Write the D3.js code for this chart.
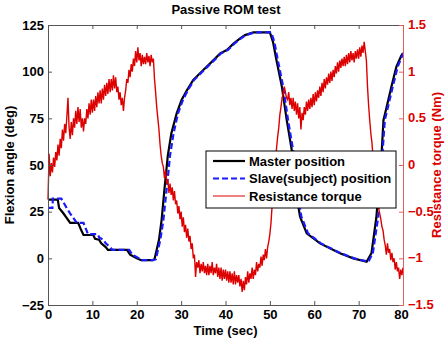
<!DOCTYPE html>
<html>
<head>
<meta charset="utf-8">
<script src="https://cdn.jsdelivr.net/npm/d3@7"></script>
<style>
  body { margin: 0; background: #fff; }
  text { font-family: "Liberation Sans", Arial, Helvetica, sans-serif; font-weight: bold; }
</style>
</head>
<body>
<div id="chart"></div>
<script>
//Data///////////////////////////////////////////////////////////////////////////

// master position [time (s), angle (deg)]
var masterPts = [
  [0, 31.5], [2.2, 31.5], [2.5, 27], [3.5, 24], [5, 19], [6.8, 19], [7.5, 15], [8, 12.5],
  [10.2, 12.5], [10.6, 10.5], [11.5, 10], [12, 8], [13, 6], [13.5, 4.5], [17.8, 4.5],
  [18.5, 2], [20, 0], [21, -1], [23.5, -1], [24, -0.5], [25, 9.8], [25.6, 20.5],
  [26.3, 38.4], [27, 55], [27.8, 67], [29, 77.7], [30.1, 84.8], [31.3, 90], [32.7, 95.5],
  [35, 100.9], [37.3, 106.2], [38.8, 109.8], [40.3, 111.6], [41.8, 115], [43.3, 117.8],
  [44.4, 119.6], [46.3, 121], [50, 121], [50.7, 116], [51.5, 106], [52.7, 92], [53.8, 74],
  [55, 57], [56, 34], [56.8, 22.3], [58.3, 13.4], [61.3, 8], [65.8, 2.7], [68.8, 0],
  [71.8, -1.8], [72.9, 2.8], [74, 22], [75.2, 57], [75.6, 74], [76.3, 81], [77.4, 92],
  [78.5, 102.6], [79.6, 108.5], [80, 110]
];

// slave (subject) position [time (s), angle (deg)]
var slavePts = [
  [0, 27], [1, 27], [1.1, 32], [3, 32], [3.5, 30], [4.2, 27], [5, 24], [6.5, 19], [8, 19],
  [8.5, 16], [9, 13], [11.2, 13], [11.6, 11], [12.5, 10], [13, 8], [14, 6], [14.5, 4.5],
  [18.3, 4.5], [19, 2], [20.5, 0], [21, -1], [23.7, -1], [24.3, -0.5], [25.3, 9.8],
  [26, 20.5], [26.8, 38.4], [27.5, 55], [28.3, 67], [29.3, 77.7], [30.4, 84.8], [31.5, 90],
  [32.9, 95.5], [35.2, 100.9], [37.5, 106.2], [39, 109.8], [40.5, 111.6], [42, 115],
  [43.5, 117.8], [44.6, 119.6], [46.5, 121], [50.3, 121], [51, 116], [51.8, 106], [53, 92],
  [54.1, 74], [55.3, 57], [56.3, 34], [57.1, 22.3], [58.6, 13.4], [61.5, 8], [66, 2.7],
  [69, 0], [72.2, -1.8], [73.2, 2.8], [74.4, 22], [75.4, 57], [75.9, 74], [76.6, 81],
  [77.7, 92], [78.8, 102.6], [79.8, 108.5], [80, 110]
];

// resistance torque (Nm), sampled every 0.25 s from 0 to 80 s
var torqueStep = 0.25;
var torque = [
  -0.37, 0.12, -0.12, 0.02,
  -0.08, 0.08, -0.02, 0.14,
  0.05, 0.22, 0.10, 0.28,
  0.18, 0.38, 0.26, 0.44,
  0.34, 0.52, 0.72, 0.40,
  0.28, 0.46, 0.32, 0.50,
  0.40, 0.58, 0.44, 0.62,
  0.46, 0.60, 0.40, 0.50,
  0.36, 0.50, 0.44, 0.60,
  0.50, 0.66, 0.54, 0.70,
  0.56, 0.70, 0.58, 0.74,
  0.62, 0.78, 0.66, 0.80,
  0.66, 0.82, 0.70, 0.86,
  0.74, 0.88, 0.76, 0.92,
  0.78, 0.92, 0.80, 0.96,
  0.82, 0.94, 0.78, 0.84,
  0.70, 0.78, 0.64, 0.72,
  0.58, 0.72, 0.80, 0.92,
  0.88, 1.02, 0.94, 1.08,
  1.00, 1.14, 1.06, 1.22,
  1.10, 1.26, 1.12, 1.20,
  1.06, 1.18, 1.08, 1.16,
  1.08, 1.20, 1.10, 1.17,
  1.06, 1.18, 1.10, 1.14,
  0.92, 0.78, 0.62, 0.50,
  0.38, 0.22, 0.10, 0.02,
  -0.02, -0.14, -0.06, -0.20,
  -0.16, -0.30, -0.20, -0.32,
  -0.24, -0.38, -0.28, -0.42,
  -0.38, -0.52, -0.44, -0.58,
  -0.50, -0.66, -0.56, -0.72,
  -0.64, -0.78, -0.68, -0.82,
  -0.76, -0.90, -0.84, -1.00,
  -0.96, -1.20, -1.04, -1.10,
  -1.02, -1.16, -1.06, -1.14,
  -1.04, -1.16, -1.08, -1.18,
  -1.06, -1.18, -1.08, -1.16,
  -1.04, -1.18, -1.10, -1.16,
  -1.06, -1.20, -1.10, -1.22,
  -1.10, -1.24, -1.12, -1.22,
  -1.12, -1.24, -1.14, -1.26,
  -1.14, -1.26, -1.16, -1.28,
  -1.14, -1.28, -1.18, -1.26,
  -1.18, -1.30, -1.22, -1.36,
  -1.24, -1.34, -1.20, -1.28,
  -1.14, -1.26, -1.16, -1.22,
  -1.10, -1.22, -1.12, -1.18,
  -1.04, -1.14, -1.06, -1.10,
  -0.98, -1.08, -0.96, -1.02,
  -0.90, -1.00, -0.88, -0.82,
  -0.74, -0.62, -0.44, -0.30,
  -0.14, 0.02, 0.18, 0.30,
  0.40, 0.54, 0.62, 0.72,
  0.76, 0.84, 0.78, 0.72,
  0.70, 0.78, 0.64, 0.72,
  0.60, 0.72, 0.58, 0.68,
  0.54, 0.66, 0.50, 0.62,
  0.38, 0.56, 0.48, 0.62,
  0.54, 0.68, 0.58, 0.70,
  0.60, 0.72, 0.62, 0.76,
  0.64, 0.78, 0.68, 0.80,
  0.72, 0.84, 0.74, 0.88,
  0.78, 0.92, 0.82, 0.94,
  0.86, 0.98, 0.88, 1.00,
  0.90, 1.02, 0.94, 1.06,
  0.98, 1.10, 1.00, 1.12,
  1.04, 1.14, 1.06, 1.16,
  1.06, 1.18, 1.08, 1.20,
  1.10, 1.22, 1.12, 1.20,
  1.10, 1.22, 1.14, 1.24,
  1.14, 1.26, 1.16, 1.28,
  1.20, 1.32, 1.22, 1.12,
  0.84, 0.64, 0.48, 0.34,
  0.24, 0.08, -0.04, -0.16,
  -0.28, -0.38, -0.46, -0.52,
  -0.58, -0.66, -0.70, -0.80,
  -0.86, -0.96, -0.84, -0.94,
  -0.90, -1.02, -0.94, -1.04,
  -1.00, -1.12, -1.04, -1.14,
  -1.10, -1.22, -1.12, -1.18,
  -1.10
];

var xTicks = [0, 10, 20, 30, 40, 50, 60, 70, 80];
var yLeftTicks = [-25, 0, 25, 50, 75, 100, 125];
var yRightTicks = [-1.5, -1, -0.5, 0, 0.5, 1, 1.5];
var legendLabels = ["Master position", "Slave(subject) position", "Resistance torque"];

//Setup//////////////////////////////////////////////////////////////////////////

var W = 447, H = 339;
var margin = {top: 25, right: 44, bottom: 34, left: 48},
    width = W - margin.left - margin.right,
    height = H - margin.top - margin.bottom;

var red = "#dd0000";

var root = d3.select("#chart").append("svg")
    .attr("width", W)
    .attr("height", H);

var svg = root.append("g")
    .attr("transform", "translate(" + margin.left + "," + margin.top + ")");

var x = d3.scaleLinear().domain([0, 80]).range([0, width]);
var yL = d3.scaleLinear().domain([-25, 125]).range([height, 0]);
var yR = d3.scaleLinear().domain([-1.5, 1.5]).range([height, 0]);

//Lines//////////////////////////////////////////////////////////////////////////

var posLine = d3.line()
  .x(function(d) { return x(d[0]); })
  .y(function(d) { return yL(d[1]); });

svg.append("path")
  .attr("d", posLine(masterPts))
  .attr("fill", "none")
  .attr("stroke", "#000")
  .attr("stroke-width", 2.2);

svg.append("path")
  .attr("d", posLine(slavePts))
  .attr("fill", "none")
  .attr("stroke", "#1a1aff")
  .attr("stroke-width", 2.2)
  .attr("stroke-dasharray", "6,3");

var torqueLine = d3.line()
  .x(function(d, i) { return x(i * torqueStep); })
  .y(function(d) { return yR(d); });

svg.append("path")
  .attr("d", torqueLine(torque))
  .attr("fill", "none")
  .attr("stroke", red)
  .attr("stroke-width", 1.4);

//Axes///////////////////////////////////////////////////////////////////////////

function styleAxis(g, col) {
  g.selectAll(".domain").attr("stroke", col);
  g.selectAll(".tick line").attr("stroke", col);
  g.selectAll(".tick text")
    .style("font-size", "13px")
    .style("font-weight", "bold")
    .attr("fill", col);
}

// bottom
var gx = svg.append("g")
  .attr("transform", "translate(0," + height + ")")
  .call(d3.axisBottom(x).tickValues(xTicks).tickSizeInner(-4).tickSizeOuter(0).tickPadding(5));
styleAxis(gx, "#000");
gx.selectAll(".domain").attr("stroke", "#555");
gx.selectAll(".tick line").attr("stroke", "#555");
// keep the last label clear of the right axis "-1.5"
gx.selectAll(".tick text").filter(function(d) { return d === 80; }).attr("dx", -2);

// top (ticks only)
var gxt = svg.append("g")
  .call(d3.axisTop(x).tickValues(xTicks).tickSizeInner(-4).tickSizeOuter(0).tickFormat(""));
styleAxis(gxt, "#555");

// left
var gy = svg.append("g")
  .call(d3.axisLeft(yL).tickValues(yLeftTicks).tickSizeInner(-4).tickSizeOuter(0).tickPadding(4));
styleAxis(gy, "#000");
gy.selectAll(".domain").attr("stroke", "#555");
gy.selectAll(".tick line").attr("stroke", "#555");

// right
var gyr = svg.append("g")
  .attr("transform", "translate(" + width + ",0)")
  .call(d3.axisRight(yR).tickValues(yRightTicks).tickSizeInner(-4).tickSizeOuter(0).tickPadding(5)
    .tickFormat(function(d) { return d3.format("")(d); }));
styleAxis(gyr, red);
gyr.selectAll(".tick text").attr("dy", "0.28em");
gyr.selectAll(".domain").attr("stroke", "#e06060");
gyr.selectAll(".tick line").attr("stroke", "#e06060");

//Labels/////////////////////////////////////////////////////////////////////////

root.append("text")
  .attr("x", 226)
  .attr("y", 14)
  .style("text-anchor", "middle")
  .style("font-size", "13px")
  .text("Passive ROM test");

root.append("text")
  .attr("x", margin.left + width / 2)
  .attr("y", 335)
  .style("text-anchor", "middle")
  .style("font-size", "13px")
  .text("Time (sec)");

root.append("text")
  .attr("transform", "translate(14," + (margin.top + height / 2) + ") rotate(-90)")
  .style("text-anchor", "middle")
  .style("font-size", "13px")
  .text("Flexion angle (deg)");

root.append("text")
  .attr("transform", "translate(441," + (margin.top + height / 2) + ") rotate(-90)")
  .style("text-anchor", "middle")
  .style("font-size", "13px")
  .attr("fill", red)
  .text("Resistance torque (Nm)");

//Legend/////////////////////////////////////////////////////////////////////////

var lg = root.append("g").attr("transform", "translate(206,151)");
lg.append("rect")
  .attr("width", 190)
  .attr("height", 57)
  .attr("fill", "#fff")
  .attr("stroke", "#000")
  .attr("stroke-width", 1);

var legendStyles = [
  {stroke: "#000", w: 2.2, dash: null},
  {stroke: "#1a1aff", w: 2.2, dash: "6,3"},
  {stroke: red, w: 1, dash: null}
];

legendLabels.forEach(function(label, i) {
  var yy = 10 + i * 17.5;
  lg.append("line")
    .attr("x1", 7).attr("x2", 39)
    .attr("y1", yy).attr("y2", yy)
    .attr("stroke", legendStyles[i].stroke)
    .attr("stroke-width", legendStyles[i].w)
    .attr("stroke-dasharray", legendStyles[i].dash);
  lg.append("text")
    .attr("x", 43)
    .attr("y", yy)
    .attr("dy", "0.35em")
    .style("font-size", "13px")
    .text(label);
});
</script>
</body>
</html>
